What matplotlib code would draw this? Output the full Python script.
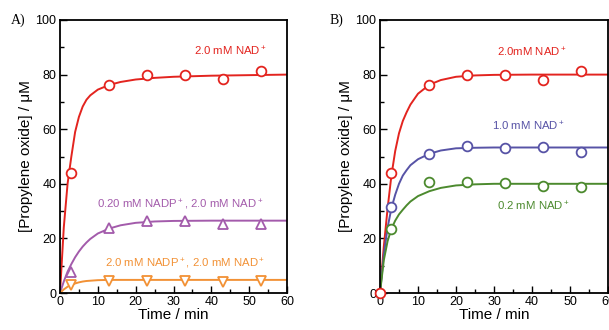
import matplotlib
matplotlib.use("Agg")
import matplotlib.pyplot as plt
from matplotlib.ticker import MultipleLocator

plt.rcParams['font.family'] = ['Liberation Sans', 'DejaVu Sans']
plt.rcParams['mathtext.fontset'] = 'custom'
plt.rcParams['mathtext.rm'] = 'Liberation Sans'

# ---- Panel A data ----
t_pts = [3, 13, 23, 33, 43, 53]
a_nad = [44, 76.3, 80, 80, 78.5, 81.5]
a_nadp02 = [7.6, 23.9, 26.4, 26.3, 25.2, 25.3]
a_nadp20 = [3.0, 4.3, 4.3, 4.3, 4.2, 4.3]

a_fit_t = [0, 1, 2, 3, 4, 5, 6, 7, 8, 10, 13, 16, 20, 25, 30, 40, 50, 60]
a_fit_nad = [0, 24, 40, 50, 59, 64.5, 68.3, 70.8, 72.4, 74.5, 76.2, 77.3, 78.2, 78.8, 79.2, 79.6, 79.8, 80]
a_fit_nadp02 = [0, 4.2, 7.8, 10.6, 13.1, 15.2, 17.0, 18.5, 19.8, 21.8, 23.6, 24.8, 25.7, 26.2, 26.4, 26.5, 26.5, 26.5]
a_fit_nadp20 = [0, 1.3, 2.3, 3.0, 3.5, 3.9, 4.2, 4.4, 4.5, 4.7, 4.8, 4.8, 4.8, 4.8, 4.8, 4.8, 4.8, 4.8]

# ---- Panel B data ----
tb_pts = [0, 3, 13, 23, 33, 43, 53]
b_nad20 = [0, 44, 76.1, 79.9, 79.8, 78.1, 81.4]
b_nad10 = [31.4, 50.9, 53.8, 53.0, 53.3, 51.8]
b_nad02 = [23.4, 40.8, 40.5, 40.3, 39.3, 38.9]

b_fit_t = [0, 1, 2, 3, 4, 5, 6, 7, 8, 10, 13, 16, 20, 25, 30, 40, 50, 60]
b_fit_nad20 = [0, 17, 31, 43, 52, 58.5, 63, 66.2, 69, 73, 76.3, 78, 79.2, 79.7, 79.9, 80, 80, 80]
b_fit_nad10 = [0, 14, 24, 31, 36, 40, 43, 45, 46.8, 49, 51, 52.2, 53, 53.2, 53.3, 53.3, 53.3, 53.3]
b_fit_nad02 = [0, 12, 19, 23.5, 26.5, 28.8, 30.5, 32.1, 33.5, 35.5, 37.3, 38.5, 39.4, 39.8, 40, 40, 40, 40]

RED = '#e3241f'
PURPLE = '#a35bab'
ORANGE = '#f29135'
BLUE = '#5753a6'
GREEN = '#4c8a2e'

W, H = 609, 330
fig = plt.figure(figsize=(W / 100, H / 100), dpi=100)

def px_axes(x0, x1, y0, y1):
    return fig.add_axes([x0 / W, 1 - y1 / H, (x1 - x0) / W, (y1 - y0) / H])

axA = px_axes(60, 287, 20, 293)
axB = px_axes(380, 608, 20, 293)

def style(ax):
    ax.set_xlim(0, 60)
    ax.set_ylim(0, 100)
    ax.xaxis.set_major_locator(MultipleLocator(10))
    ax.xaxis.set_minor_locator(MultipleLocator(5))
    ax.yaxis.set_major_locator(MultipleLocator(20))
    ax.yaxis.set_minor_locator(MultipleLocator(10))
    ax.tick_params(which='both', direction='in', top=False, right=False, labelsize=9, width=1.0, pad=2.5)
    ax.tick_params(which='major', length=5)
    ax.tick_params(which='minor', length=3)
    for s in ax.spines.values():
        s.set_linewidth(1.3)
    ax.set_xlabel('Time / min', fontsize=11, labelpad=0)
    ax.set_ylabel('[Propylene oxide] / μM', fontsize=11, labelpad=2)

mk = dict(markersize=7, markerfacecolor='white', markeredgewidth=1.3, linestyle='none', clip_on=False, zorder=5)

FS = 8.2

# Panel A
axA.plot(a_fit_t, a_fit_nad, color=RED, lw=1.4)
axA.plot(a_fit_t, a_fit_nadp02, color=PURPLE, lw=1.4)
axA.plot(a_fit_t, a_fit_nadp20, color=ORANGE, lw=1.4)
axA.plot(t_pts, a_nad, marker='o', markeredgecolor=RED, **mk)
axA.plot(t_pts, a_nadp02, marker='^', markeredgecolor=PURPLE, **mk)
axA.plot(t_pts, a_nadp20, marker='v', markeredgecolor=ORANGE, **mk)
style(axA)
axA.text(45, 88.5, r'2.0 mM NAD$^+$', color=RED, fontsize=FS, ha='center', va='center')
axA.text(31.7, 32.3, r'0.20 mM NADP$^+$, 2.0 mM NAD$^+$', color=PURPLE, fontsize=FS, ha='center', va='center')
axA.text(33, 10.5, r'2.0 mM NADP$^+$, 2.0 mM NAD$^+$', color=ORANGE, fontsize=FS, ha='center', va='center')

# Panel B
axB.plot(b_fit_t, b_fit_nad20, color=RED, lw=1.4)
axB.plot(b_fit_t, b_fit_nad10, color=BLUE, lw=1.4)
axB.plot(b_fit_t, b_fit_nad02, color=GREEN, lw=1.4)
axB.plot(tb_pts[1:], b_nad10, marker='o', markeredgecolor=BLUE, **mk)
axB.plot(tb_pts[1:], b_nad02, marker='o', markeredgecolor=GREEN, **mk)
axB.plot(tb_pts, b_nad20, marker='o', markeredgecolor=RED, **mk)
style(axB)
axB.text(40, 88, r'2.0mM NAD$^+$', color=RED, fontsize=FS, ha='center', va='center')
axB.text(39, 61.2, r'1.0 mM NAD$^+$', color=BLUE, fontsize=FS, ha='center', va='center')
axB.text(40.4, 31.6, r'0.2 mM NAD$^+$', color=GREEN, fontsize=FS, ha='center', va='center')

# Panel labels
fig.text(11 / W, 1 - 20 / H, 'A)', fontsize=10, family='Liberation Serif', va='center', ha='left')
fig.text(330 / W, 1 - 20 / H, 'B)', fontsize=10, family='Liberation Serif', va='center', ha='left')

fig.savefig('out.png', dpi=100)
